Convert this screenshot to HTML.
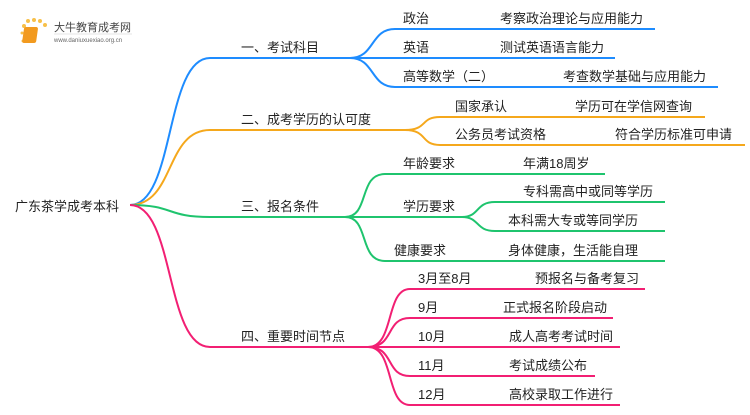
<!DOCTYPE html>
<html><head><meta charset="utf-8"><style>
html,body{margin:0;padding:0;background:#fff;}
svg text{font-family:"Liberation Sans","Noto Sans CJK SC",sans-serif;fill:#222;}
</style></head><body>
<svg width="750" height="410" viewBox="0 0 750 410" xmlns="http://www.w3.org/2000/svg">
<rect width="750" height="410" fill="#fff"/>
<g>
<circle cx="24" cy="26" r="2" fill="#f7c04a"/><circle cx="28" cy="21" r="2" fill="#f7c04a"/><circle cx="34" cy="20" r="2" fill="#f7c04a"/><circle cx="40" cy="21" r="2" fill="#f7c04a"/><circle cx="45" cy="25" r="2" fill="#f7c04a"/><circle cx="22" cy="33" r="1.5" fill="#f7c04a"/><circle cx="23" cy="41" r="1.5" fill="#f7c04a"/>
<rect x="28" y="27" width="14" height="16" rx="2" fill="#f29a1f" transform="skewX(-8)"/>
<text x="54" y="31" font-size="11" style="fill:#444">大牛教育成考网</text>
<line x1="54" y1="34" x2="132" y2="34" stroke="#ddd" stroke-width="0.8"/>
<text x="54" y="42" font-size="6" style="fill:#666">www.daniuxuexiao.org.cn</text>
</g>
<g fill="none" stroke-width="2">
<g stroke="#1e8cff">
<path d="M130,205 C175,205 165,58 210,58 L350,58"/>
<path d="M350,58 C375,58 370,29 395,29 L655,29"/>
<path d="M350,58 L615,58"/>
<path d="M350,58 C375,58 370,87 395,87 L718,87"/>
</g>
<g stroke="#f5a81c">
<path d="M130,205 C175,205 165,130 210,130 L405,130"/>
<path d="M405,130 C428,130 420,117 440,117 L705,117"/>
<path d="M405,130 C428,130 420,145 440,145 L745,145"/>
</g>
<g stroke="#1fc46e">
<path d="M130,205 C175,205 165,217 210,217 L345,217"/>
<path d="M345,217 C370,217 358,174 385,174 L605,174"/>
<path d="M345,217 L462,217"/>
<path d="M345,217 C370,217 358,261 385,261 L665,261"/>
<path d="M462,217 C480,217 475,202 495,202 L665,202"/>
<path d="M462,217 C480,217 475,231 495,231 L665,231"/>
</g>
<g stroke="#f21f73">
<path d="M130,205 C175,205 165,347 210,347 L368,347"/>
<path d="M368,347 C395,347 385,289 410,289 L645,289"/>
<path d="M368,347 C395,347 385,318 410,318 L613,318"/>
<path d="M368,347 L620,347"/>
<path d="M368,347 C395,347 385,376 410,376 L595,376"/>
<path d="M368,347 C395,347 385,405 410,405 L620,405"/>
</g>
</g>
<g font-size="13">
<text x="15" y="211">广东茶学成考本科</text>
<text x="241" y="52">一、考试科目</text>
<text x="241" y="124">二、成考学历的认可度</text>
<text x="241" y="211">三、报名条件</text>
<text x="241" y="341">四、重要时间节点</text>
<text x="403" y="23">政治</text><text x="500" y="23">考察政治理论与应用能力</text>
<text x="403" y="52">英语</text><text x="500" y="52">测试英语语言能力</text>
<text x="403" y="81">高等数学（二）</text><text x="563" y="81">考查数学基础与应用能力</text>
<text x="455" y="111">国家承认</text><text x="575" y="111">学历可在学信网查询</text>
<text x="455" y="139">公务员考试资格</text><text x="615" y="139">符合学历标准可申请</text>
<text x="403" y="168">年龄要求</text><text x="523" y="168">年满18周岁</text>
<text x="403" y="211">学历要求</text>
<text x="523" y="196">专科需高中或同等学历</text>
<text x="508" y="225">本科需大专或等同学历</text>
<text x="394" y="255">健康要求</text><text x="508" y="255">身体健康，生活能自理</text>
<text x="418" y="283">3月至8月</text><text x="535" y="283">预报名与备考复习</text>
<text x="418" y="312">9月</text><text x="503" y="312">正式报名阶段启动</text>
<text x="418" y="341">10月</text><text x="509" y="341">成人高考考试时间</text>
<text x="418" y="370">11月</text><text x="509" y="370">考试成绩公布</text>
<text x="418" y="399">12月</text><text x="509" y="399">高校录取工作进行</text>
</g>
</svg>
</body></html>
